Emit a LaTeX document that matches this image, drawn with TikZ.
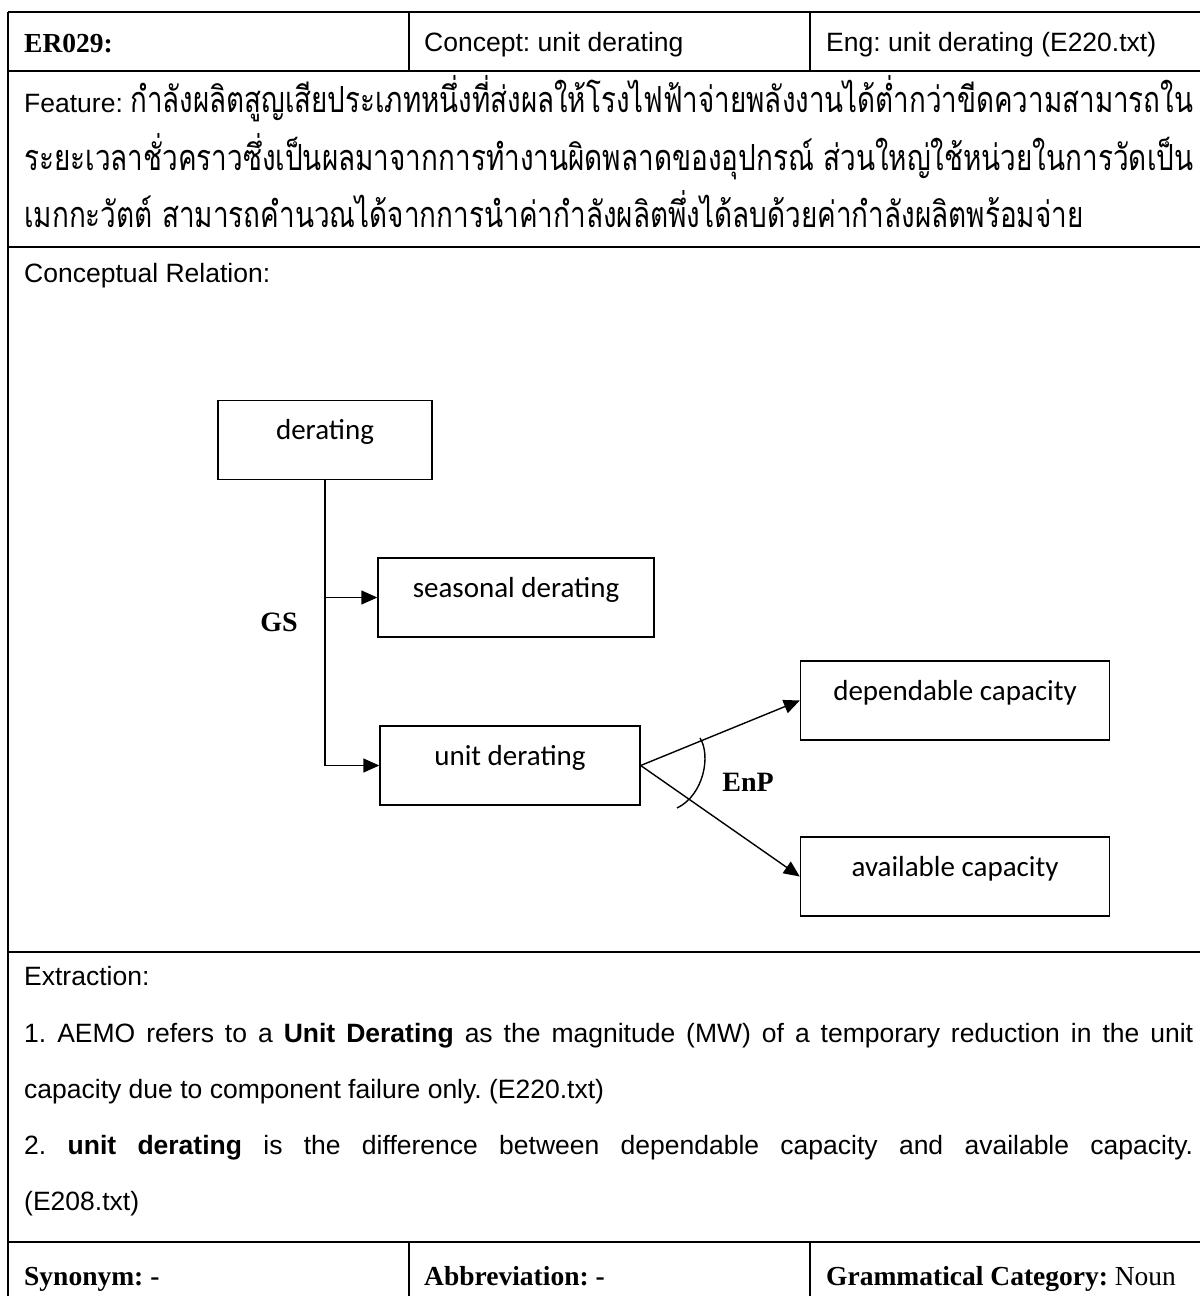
\documentclass[tikz,border=0pt]{standalone}
\usepackage{fontspec}
\usepackage{graphicx}
\usetikzlibrary{arrows.meta}

\newfontfamily\sansf{Liberation Sans}
\newfontfamily\serf{Liberation Serif}
\newfontfamily\calib{Carlito}
\newfontfamily\thaif[Script=Thai]{Loma}

\newcommand\txtsize{\fontsize{26.5}{30}\selectfont}
\newcommand\thaisize{\fontsize{36}{40}\selectfont}
\newcommand\serfsize{\fontsize{27.5}{30}\selectfont}
\newcommand\boxsize{\fontsize{29}{32}\selectfont}

% Thai definition text, one macro per printed line
\newcommand\thaiA{กำลังผลิตสูญเสียประเภทหนึ่งที่ส่งผลให้โรงไฟฟ้าจ่ายพลังงานได้ต่ำกว่าขีดความสามารถใน}
\newcommand\thaiB{ระยะเวลาชั่วคราวซึ่งเป็นผลมาจากการทำงานผิดพลาดของอุปกรณ์ ส่วนใหญ่ใช้หน่วยในการวัดเป็น}
\newcommand\thaiC{เมกกะวัตต์ สามารถคำนวณได้จากการนำค่ากำลังผลิตพึ่งได้ลบด้วยค่ากำลังผลิตพร้อมจ่าย}

\newlength\linew
\newlength\featw
\newlength\thaiBw
\newsavebox\measbox

\begin{document}
\frenchspacing
\setlength\linew{1169pt}%
\sbox\measbox{\sansf\txtsize Feature:\ }%
\setlength\featw{\wd\measbox}%
\sbox\measbox{\thaif\thaisize\thaiB}%
\setlength\thaiBw{\wd\measbox}%
\ifdim\thaiBw<1pt\setlength\thaiBw{1169pt}\fi
\edef\thaiscale{\fpeval{\linew/\thaiBw}}%
\begin{tikzpicture}[x=1pt,y=-1pt,
  rule/.style={line width=2.2pt},
  cell/.style={anchor=base west,inner sep=0pt,font=\sansf\txtsize},
  headb/.style={anchor=base west,inner sep=0pt,font=\serf\serfsize\bfseries},
  concept/.style={draw,line width=1.4pt,inner xsep=0pt,inner ysep=0pt,
    text height=39pt,text depth=40pt,font=\calib\boxsize},
  rel/.style={inner sep=0pt,font=\serf\fontsize{28}{30}\selectfont\bfseries},
  link/.style={line width=1.4pt,-{Triangle[length=16pt,width=14pt]}}]

\useasboundingbox (0,0) rectangle (1200,1296);
\fill[white] (0,0) rectangle (1200,1296);

% table rules
\draw[rule] (8,12) -- (1200,12);
\draw[rule] (8,12) -- (8,1296);
\draw[rule] (8,71) -- (1200,71);
\draw[rule] (8,247) -- (1200,247);
\draw[rule] (8,952) -- (1200,952);
\draw[rule] (8,1242) -- (1200,1242);
\draw[rule] (409,12) -- (409,71);
\draw[rule] (810,12) -- (810,71);
\draw[rule] (409,1242) -- (409,1296);
\draw[rule] (810,1242) -- (810,1296);

% header row
\node[headb] (id) at (24,52) {ER029:};
\node[cell] (conc) at (424,51) {Concept: unit derating};
\node[cell] (eng) at (826,51) {Eng: unit derating (E220.txt)};

% feature
\node[cell] (f1) at (24,112) {Feature:\ {\thaif\thaisize\resizebox{\dimexpr\linew-\featw\relax}{\height}{\thaiA}}};
\node[cell] (f2) at (24,170) {\thaif\thaisize\scalebox{\thaiscale}[1]{\thaiB}};
\node[cell] (f3) at (24,227) {\thaif\thaisize\scalebox{\thaiscale}[1]{\thaiC}};

% conceptual relation
\node[cell] (crel) at (24,282) {Conceptual Relation:};

\node[concept,minimum width=214pt] (der) at (325,440) {derating};
\node[concept,minimum width=276pt] (seas) at (516,597.5) {seasonal derating};
\node[concept,minimum width=260pt] (unit) at (510,765.5) {unit derating};
\node[concept,minimum width=309pt] (dep) at (955,700.5) {dependable capacity};
\node[concept,minimum width=309pt] (avail) at (955,876.5) {available capacity};

\draw[link] (der.south) |- (seas.west);
\draw[link] (der.south) |- (unit.west);
\draw[link] (unit.east) -- (dep.west);
\draw[link] (unit.east) -- (avail.west);
\draw[line width=1.4pt] (700,738) .. controls (711,755) and (704,795) .. (677,808);

\node[rel] (gs) at (279,622) {GS};
\node[rel] (enp) at (748,782) {EnP};

% extraction
\node[cell] (ex) at (24,985) {Extraction:};
\node[cell] (e1) at (24,1042) {\makebox[\linew][s]{1. AEMO refers to a \textbf{Unit Derating} as the magnitude (MW) of a temporary reduction in the unit}};
\node[cell] (e2) at (24,1098) {capacity due to component failure only. (E220.txt)};
\node[cell] (e3) at (24,1154) {\makebox[\linew][s]{2. \textbf{unit derating} is the difference between dependable capacity and available capacity.}};
\node[cell] (e4) at (24,1210) {(E208.txt)};

% bottom row
\node[headb] (syn) at (24,1285) {Synonym: -};
\node[headb] (abbr) at (424,1285) {Abbreviation: -};
\node[headb] (gram) at (826,1285) {Grammatical Category: \mdseries Noun};
\end{tikzpicture}
\end{document}
